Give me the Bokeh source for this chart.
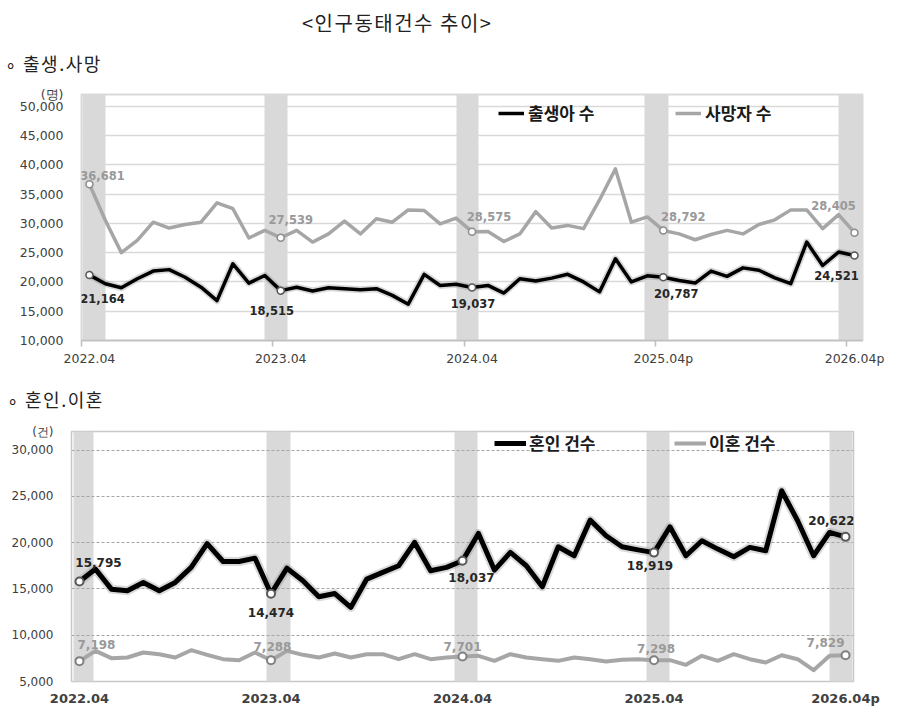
from bokeh.plotting import figure
from bokeh.models import (Range1d, FixedTicker, NumeralTickFormatter, ColumnDataSource,
                          Legend, LegendItem, Div)
from bokeh.embed import file_html
from bokeh.resources import INLINE
from bokeh.core.properties import value

# ---------------- data ----------------
births = [21164, 19700, 19000, 20550, 21850, 22100, 20800, 19100, 16800, 23100, 19800, 21100,
          18515, 19100, 18450, 19000, 18850, 18650, 18850, 17700, 16200, 21300, 19400, 19600,
          19037, 19400, 18100, 20550, 20150, 20650, 21300, 20000, 18300, 23950, 20000, 21050,
          20787, 20250, 19800, 21850, 20950, 22400, 22000, 20700, 19700, 26800, 22800, 25100,
          24521]
deaths = [36681, 30500, 25000, 27100, 30200, 29200, 29800, 30200, 33500, 32500, 27500, 28800,
          27539, 28800, 26800, 28200, 30400, 28200, 30800, 30200, 32300, 32200, 29900, 30900,
          28575, 28600, 26900, 28200, 32000, 29200, 29650, 29100, 34000, 39300, 30200, 31100,
          28792, 28200, 27200, 28100, 28800, 28200, 29800, 30600, 32300, 32300, 29100, 31500,
          28405]
marriages = [15795, 17140, 14975, 14800, 15700, 14800, 15700, 17320, 19900, 17960, 17960, 18320,
             14474, 17240, 15880, 14150, 14500, 13000, 16060, 16780, 17500, 20020, 16960, 17320,
             18037, 20990, 17030, 18940, 17500, 15230, 19550, 18580, 22430, 20740, 19550, 19220,
             18919, 21710, 18580, 20200, 19300, 18470, 19480, 19120, 25600, 22360, 18580, 21100,
             20622]
divorces = [7198, 8310, 7520, 7590, 8130, 7950, 7590, 8380, 7880, 7410, 7300, 8130,
            7288, 8310, 7880, 7590, 8020, 7590, 7950, 7950, 7410, 7950, 7410, 7590,
            7701, 7770, 7230, 7950, 7590, 7410, 7230, 7590, 7410, 7160, 7340, 7410,
            7298, 7300, 6800, 7770, 7230, 7950, 7410, 7050, 7840, 7410, 6220, 7770,
            7829]
months = [f"{2022 + (3 + k) // 12}.{(3 + k) % 12 + 1:02d}" for k in range(len(births))]
mark_idx = [0, 12, 24, 36, 48]
top_tick_labels = ["2022.04", "2023.04", "2024.04", "2025.04p", "2026.04p"]
bottom_tick_labels = ["2022.04", "2023.04", "2024.04", "2025.04", "2026.04p"]
y1_ticks = [10000, 15000, 20000, 25000, 30000, 35000, 40000, 45000, 50000]
y2_ticks = [5000, 10000, 15000, 20000, 25000, 30000]
y1_unit = "(명)"
y2_unit = "(건)"
main_title = "<인구동태건수 추이>"
sec1_title = "∘ 출생.사망"
sec2_title = "∘ 혼인.이혼"

x = list(range(len(months)))
KR = "Noto Sans CJK KR"
NUM = "DejaVu Sans"


def header(text, height, size, left, spacing):
    return Div(text=f'<span style="margin-left:{left}px">{text.replace("<", "&lt;").replace(">", "&gt;")}</span>',
               width=900, height=height, margin=0,
               styles={"font-family": KR, "font-size": f"{size}px", "line-height": f"{height}px",
                       "letter-spacing": f"{spacing}px",
                       "color": "#222222", "white-space": "nowrap", "overflow": "visible"})


def style_common(p, y_ticks, y_top, unit):
    p.background_fill_color = "white"
    p.border_fill_color = "white"
    p.xgrid.grid_line_color = None
    p.yaxis.axis_line_color = None
    p.yaxis.major_tick_line_color = None
    p.yaxis.minor_tick_line_color = None
    p.yaxis.major_tick_out = 0
    p.yaxis.major_tick_in = 0
    p.yaxis.major_label_standoff = 18
    p.yaxis.major_label_text_font = NUM
    p.yaxis.major_label_text_color = "#404040"
    p.yaxis.formatter = NumeralTickFormatter(format="0,0")
    p.yaxis.ticker = FixedTicker(ticks=y_ticks + [y_top])
    p.yaxis.major_label_overrides = {y_top: unit}


def add_labels(p, src_vals, dx, dy, color, size):
    src = ColumnDataSource(dict(
        x=mark_idx,
        y=[src_vals[i] for i in mark_idx],
        t=[f"{src_vals[i]:,}" for i in mark_idx],
        dx=dx, dy=dy))
    p.text(x="x", y="y", text="t", x_offset="dx", y_offset="dy", source=src,
           text_align="center", text_baseline="middle", text_font=value(NUM),
           text_font_style="bold", text_font_size=size, text_color=color)


# ---------------- figure 1: births / deaths ----------------
y1_top = 52000
p1 = figure(frame_width=781, frame_height=246, x_range=Range1d(-0.5, 48.5),
            y_range=Range1d(10000, y1_top), output_backend="svg", toolbar_location=None,
            min_border_left=81, min_border_right=38, min_border_top=14, min_border_bottom=40,
            outline_line_color="#D9D9D9", outline_line_width=2, title=None)
style_common(p1, y1_ticks, y1_top, y1_unit)
top_band = [(-0.45, 1.0), (-1.0, 0.45), (-1.0, 0.4), (-1.2, 0.3), (-1.0, 0.5)]
p1.vstrip(x0=[i + a for i, (a, b) in zip(mark_idx, top_band)],
          x1=[i + b for i, (a, b) in zip(mark_idx, top_band)],
          fill_color="#D9D9D9", line_color=None, level="image")
p1.ygrid.grid_line_color = "#D9D9D9"
p1.ygrid.grid_line_width = 1.5
p1.yaxis.major_label_text_font_size = "12.5px"

p1.xaxis.ticker = FixedTicker(ticks=mark_idx, minor_ticks=[i - 0.5 for i in mark_idx])
p1.xaxis.major_label_overrides = {i: lab for i, lab in zip(mark_idx, top_tick_labels)}
p1.xaxis.axis_line_color = "#BFBFBF"
p1.xaxis.axis_line_width = 1.5
p1.xaxis.major_tick_line_color = None
p1.xaxis.major_tick_out = 0
p1.xaxis.major_tick_in = 0
p1.xaxis.minor_tick_line_color = "#BFBFBF"
p1.xaxis.minor_tick_line_width = 1.5
p1.xaxis.minor_tick_out = 6
p1.xaxis.minor_tick_in = 0
p1.xaxis.major_label_standoff = 4
p1.xaxis.major_label_text_font = NUM
p1.xaxis.major_label_text_font_size = "12.5px"
p1.xaxis.major_label_text_color = "#404040"

r_d = p1.line(x, deaths, line_color="#A6A6A6", line_width=3.5, line_join="round")
p1.line(x, births, line_color="#808080", line_alpha=0.3, line_width=7, line_join="round")
r_b = p1.line(x, births, line_color="black", line_width=3.5, line_join="round")
p1.scatter(mark_idx, [deaths[i] for i in mark_idx], size=7, fill_color="white",
           line_color="#8C8C8C", line_width=1.5)
p1.scatter(mark_idx, [births[i] for i in mark_idx], size=7, fill_color="white",
           line_color="#595959", line_width=1.5)
add_labels(p1, deaths, [13, 10, 17, 20, -21], [-9, -18, -15, -14, -27], "#999999", "11.5px")
add_labels(p1, births, [13, -9, 1, 13, -18], [23, 20, 16, 16, 20], "#262626", "11.5px")

leg1 = Legend(items=[LegendItem(label="출생아 수", renderers=[r_b]),
                     LegendItem(label="사망자 수", renderers=[r_d])],
              location=(417, 215), orientation="horizontal", border_line_color=None,
              background_fill_alpha=0, label_text_font=KR, label_text_font_style="bold",
              label_text_font_size="17px", label_text_color="#1a1a1a",
              glyph_width=26, glyph_height=20, label_standoff=4, label_width=75,
              spacing=72, padding=0, margin=0)
p1.add_layout(leg1)

# ---------------- figure 2: marriages / divorces ----------------
y2_top = 32000
p2 = figure(frame_width=782, frame_height=250, x_range=Range1d(-0.5, 48.5),
            y_range=Range1d(5000, y2_top), output_backend="svg", toolbar_location=None,
            min_border_left=71, min_border_right=47, min_border_top=13, min_border_bottom=25,
            outline_line_color="#C8C8C8", outline_line_width=1.5, title=None)
style_common(p2, y2_ticks, y2_top, y2_unit)
bot_band = [(-0.4, 0.9), (-0.3, 1.2), (-0.5, 0.95), (-0.5, 1.0), (-1.0, 0.45)]
p2.vstrip(x0=[i + a for i, (a, b) in zip(mark_idx, bot_band)],
          x1=[i + b for i, (a, b) in zip(mark_idx, bot_band)],
          fill_color="#D9D9D9", line_color=None, level="image")
p2.ygrid.grid_line_color = "#A6A6A6"
p2.ygrid.grid_line_width = 1
p2.ygrid.grid_line_dash = "3 2"
p2.yaxis.major_label_text_font_size = "12px"

p2.xaxis.ticker = FixedTicker(ticks=mark_idx)
p2.xaxis.major_label_overrides = {i: lab for i, lab in zip(mark_idx, bottom_tick_labels)}
p2.xaxis.axis_line_color = None
p2.xaxis.major_tick_line_color = None
p2.xaxis.minor_tick_line_color = None
p2.xaxis.major_tick_out = 0
p2.xaxis.major_tick_in = 0
p2.xaxis.major_label_standoff = 9
p2.xaxis.major_label_text_font = NUM
p2.xaxis.major_label_text_font_style = "bold"
p2.xaxis.major_label_text_font_size = "13px"
p2.xaxis.major_label_text_color = "#404040"

r_v = p2.line(x, divorces, line_color="#A6A6A6", line_width=4, line_join="round")
p2.line(x, marriages, line_color="#808080", line_alpha=0.3, line_width=9, line_join="round")
r_m = p2.line(x, marriages, line_color="black", line_width=5, line_join="round")
p2.scatter(mark_idx, [divorces[i] for i in mark_idx], size=8, fill_color="white",
           line_color="#808080", line_width=2)
p2.scatter(mark_idx, [marriages[i] for i in mark_idx], size=8, fill_color="white",
           line_color="#595959", line_width=2)
add_labels(p2, marriages, [19, 0, 9, -4, -14], [-19, 19, 17, 13, -16], "#262626", "12px")
add_labels(p2, divorces, [17, 1.5, 0, 2, -20], [-17, -14, -10, -12, -13], "#999999", "12px")

leg2 = Legend(items=[LegendItem(label="혼인 건수", renderers=[r_m]),
                     LegendItem(label="이혼 건수", renderers=[r_v])],
              location=(423, 226), orientation="horizontal", border_line_color=None,
              background_fill_alpha=0, label_text_font=KR, label_text_font_style="bold",
              label_text_font_size="17px", label_text_color="#1a1a1a",
              glyph_width=32, glyph_height=18, label_standoff=3, label_width=80,
              spacing=65, padding=0, margin=0)
p2.add_layout(leg2)

roots = [header(main_title, 46, 20, 302, 1.5), header(sec1_title, 34, 18, 5, 1.5), p1,
         header(sec2_title, 38, 18, 7, 1.5), p2]
open("out.html", "w").write(file_html(roots, INLINE, "인구동태건수 추이"))
